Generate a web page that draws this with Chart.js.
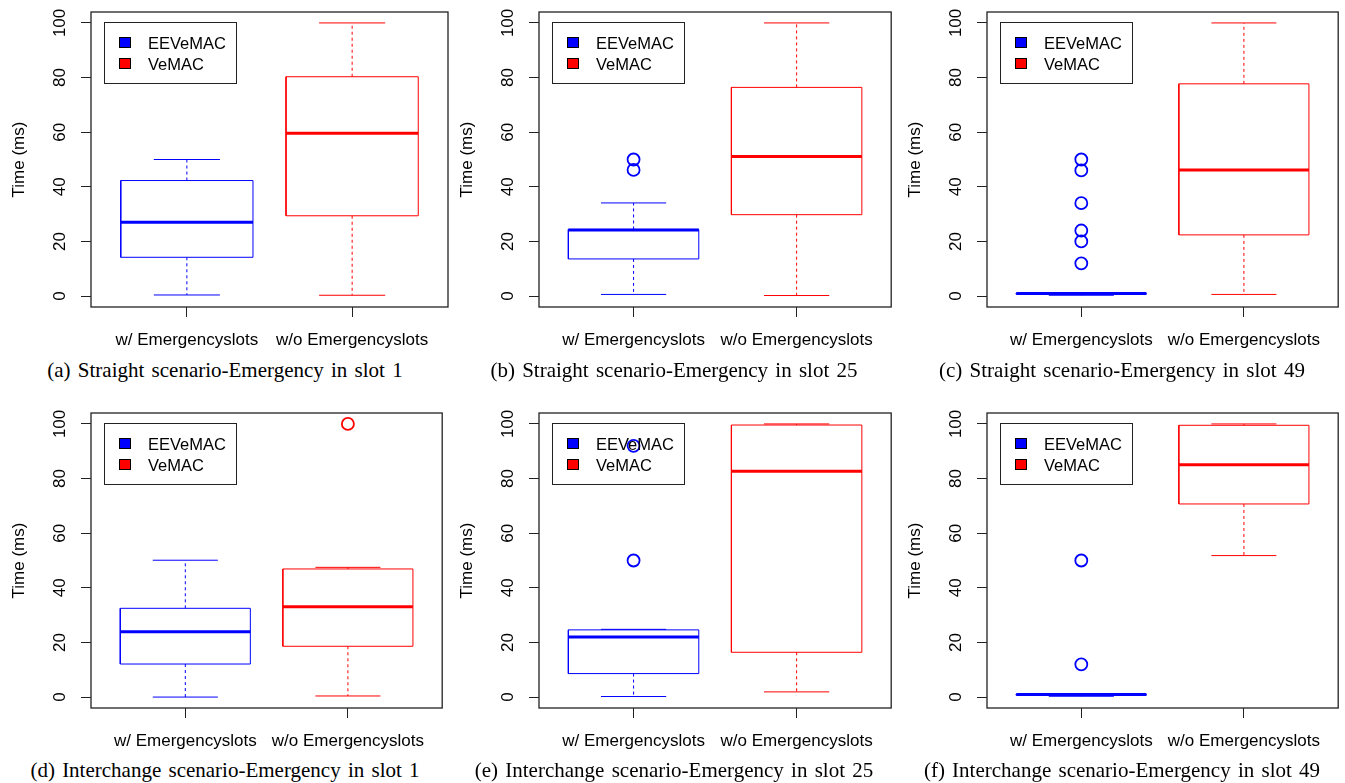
<!DOCTYPE html>
<html>
<head>
<meta charset="utf-8">
<script src="https://cdn.jsdelivr.net/npm/chart.js@4.4.0/dist/chart.umd.min.js"></script>
<style>
  html, body { margin: 0; padding: 0; background: #fff; }
  body { width: 1345px; height: 783px; position: relative; overflow: hidden; font-family: "Liberation Sans", Arial, sans-serif; }
  canvas { position: absolute; }
  .caption { position: absolute; width: 450px; text-align: center; font-family: "Liberation Serif", "Times New Roman", serif; font-size: 21px; word-spacing: 2px; line-height: 24px; white-space: nowrap; color: #000; }
  .legend { position: absolute; width: 131px; height: 60px; border: 1px solid #222; font-size: 16.5px; color: #000; }
  .legend .row { position: absolute; left: 0; width: 131px; height: 20px; line-height: 20px; }
  .legend .sw { position: absolute; left: 14px; top: 4px; width: 10px; height: 9px; border: 1px solid #000; }
  .legend .lab { position: absolute; left: 43px; top: 0; }
</style>
</head>
<body>
<script>
// x categories, series and y ticks
const categories = ['w/ Emergencyslots', 'w/o Emergencyslots'];
const seriesNames = ['EEVeMAC', 'VeMAC'];
const seriesColors = ['#0000ff', '#ff0000'];
const yTicks = [0, 20, 40, 60, 80, 100];

const captions = [
    '(a) Straight scenario-Emergency in slot 1',
    '(b) Straight scenario-Emergency in slot 25',
    '(c) Straight scenario-Emergency in slot 49',
    '(d) Interchange scenario-Emergency in slot 1',
    '(e) Interchange scenario-Emergency in slot 25',
    '(f) Interchange scenario-Emergency in slot 49'
];

// [lower whisker, Q1, median, Q3, upper whisker] per panel
const eeStats = [
    [0.4, 14.2, 27.0, 42.3, 50.0],
    [0.6, 13.6, 24.2, 24.4, 34.1],
    [0.3, 0.7, 0.9, 1.0, 1.0],
    [0.0, 12.1, 23.9, 32.5, 50.1],
    [0.2, 8.6, 22.0, 24.6, 24.8],
    [0.3, 0.7, 0.9, 1.0, 1.0]
];
const veStats = [
    [0.3, 29.4, 59.6, 80.3, 100],
    [0.2, 29.8, 51.1, 76.4, 100],
    [0.6, 22.4, 46.2, 77.7, 100],
    [0.4, 18.6, 33.1, 46.9, 47.5],
    [1.9, 16.4, 82.7, 99.6, 100],
    [51.8, 70.7, 85.1, 99.5, 100]
];
const eeOutliers = [[], [50, 46.2], [50, 46, 34, 24, 20, 12], [], [92, 50], [50, 12]];
const veOutliers = [[], [], [], [100], [], []];

// layout of the six panels (plot area edges)
const plotLeft = [91, 539, 987, 91, 539, 987];
const plotRight = [448, 897, 1344, 448, 897, 1344];
const plotTop = [12, 12, 12, 413, 413, 413];
const captionX = [225, 674, 1122, 225, 674, 1122];
const captionY = [370, 370, 370, 770, 770, 770];

const sansFont = '"Liberation Sans", Arial, sans-serif';

function lineSet(pts, color, extra) {
    return Object.assign({
        data: pts,
        showLine: true,
        borderColor: color,
        borderWidth: 1,
        borderJoinStyle: 'miter',
        pointRadius: 0,
        fill: false,
        tension: 0
    }, extra || {});
}

// one box: rectangle, whiskers, caps, median, outliers
function boxDatasets(stats, outliers, xc, color) {
    const [lo, q1, med, q3, hi] = stats;
    const hw = 0.4, cw = 0.2;
    return [
        lineSet([{x: xc - hw, y: q1}, {x: xc + hw, y: q1}, {x: xc + hw, y: q3}, {x: xc - hw, y: q3}, {x: xc - hw, y: q1}], color),
        lineSet([{x: xc, y: q3}, {x: xc, y: hi}], color, {borderDash: [3, 3]}),
        lineSet([{x: xc, y: q1}, {x: xc, y: lo}], color, {borderDash: [3, 3]}),
        lineSet([{x: xc - cw, y: hi}, {x: xc + cw, y: hi}], color),
        lineSet([{x: xc - cw, y: lo}, {x: xc + cw, y: lo}], color),
        lineSet([{x: xc - hw, y: med}, {x: xc + hw, y: med}], color, {borderWidth: 3, borderCapStyle: 'butt'}),
        {
            data: outliers.map(v => ({x: xc, y: v})),
            showLine: false,
            pointStyle: 'circle',
            pointRadius: 6,
            pointBorderWidth: 1.8,
            pointBackgroundColor: 'rgba(0,0,0,0)',
            pointBorderColor: color,
            borderColor: color
        }
    ];
}

// frame + rotated y tick labels
const framePlugin = {
    id: 'frame',
    afterDraw(chart) {
        const {ctx, chartArea: a, scales: {y}} = chart;
        ctx.save();
        ctx.strokeStyle = '#222';
        ctx.lineWidth = 1.3;
        ctx.strokeRect(a.left, a.top, a.right - a.left, a.bottom - a.top);
        ctx.fillStyle = '#000';
        ctx.font = '17px ' + sansFont;
        ctx.textAlign = 'center';
        ctx.textBaseline = 'middle';
        yTicks.forEach(v => {
            ctx.save();
            ctx.translate(a.left - 30.5, y.getPixelForValue(v));
            ctx.rotate(-Math.PI / 2);
            ctx.fillText(String(v), 0, 0);
            ctx.restore();
        });
        ctx.restore();
    }
};

function makePanel(i) {
    const canvasLeft = plotLeft[i] - 91;
    const canvasTop = plotTop[i] - 12;
    const w = plotRight[i] - canvasLeft + 2;
    const h = 355;

    const canvas = document.createElement('canvas');
    canvas.width = w;
    canvas.height = h;
    canvas.style.left = canvasLeft + 'px';
    canvas.style.top = canvasTop + 'px';
    canvas.style.width = w + 'px';
    canvas.style.height = h + 'px';
    document.body.appendChild(canvas);

    const datasets = [
        ...boxDatasets(eeStats[i], eeOutliers[i], 1, seriesColors[0]),
        ...boxDatasets(veStats[i], veOutliers[i], 2, seriesColors[1])
    ];

    new Chart(canvas.getContext('2d'), {
        type: 'scatter',
        data: { datasets: datasets },
        options: {
            responsive: false,
            animation: false,
            devicePixelRatio: 1,
            layout: { padding: { left: 0, right: 2, top: 12, bottom: 0 } },
            plugins: { legend: { display: false }, tooltip: { enabled: false } },
            scales: {
                x: {
                    type: 'linear',
                    min: 0.42,
                    max: 2.58,
                    afterBuildTicks: s => { s.ticks = [{value: 1}, {value: 2}]; },
                    afterFit: s => { s.height = h - 12 - 295; },
                    grid: { drawOnChartArea: false, drawTicks: true, tickLength: 10, color: '#222', lineWidth: 1 },
                    border: { display: false },
                    ticks: {
                        autoSkip: false, minRotation: 0, maxRotation: 0, padding: 13, color: '#000',
                        font: { family: sansFont, size: 17 },
                        callback: v => categories[v - 1]
                    }
                },
                y: {
                    type: 'linear',
                    min: -4,
                    max: 104,
                    afterBuildTicks: s => { s.ticks = yTicks.map(v => ({value: v})); },
                    afterFit: s => { s.width = 91; },
                    grid: { drawOnChartArea: false, drawTicks: true, tickLength: 10, color: '#222', lineWidth: 1 },
                    border: { display: false },
                    ticks: { display: false },
                    title: {
                        display: true, text: 'Time (ms)', color: '#000',
                        font: { family: sansFont, size: 17 },
                        padding: { top: 9, bottom: 0 }
                    }
                }
            }
        },
        plugins: [framePlugin]
    });

    // legend inside the plot area
    const lg = document.createElement('div');
    lg.className = 'legend';
    lg.style.left = (plotLeft[i] + 13) + 'px';
    lg.style.top = (plotTop[i] + 10) + 'px';
    seriesNames.forEach((name, k) => {
        const row = document.createElement('div');
        row.className = 'row';
        row.style.top = (10 + k * 21) + 'px';
        row.innerHTML = `<span class="sw" style="background:${seriesColors[k]}"></span><span class="lab">${name}</span>`;
        lg.appendChild(row);
    });
    document.body.appendChild(lg);

    const cap = document.createElement('div');
    cap.className = 'caption';
    cap.style.left = (captionX[i] - 225) + 'px';
    cap.style.top = (captionY[i] - 12) + 'px';
    cap.innerText = captions[i];
    document.body.appendChild(cap);
}

for (let i = 0; i < 6; i++) makePanel(i);
</script>
</body>
</html>
